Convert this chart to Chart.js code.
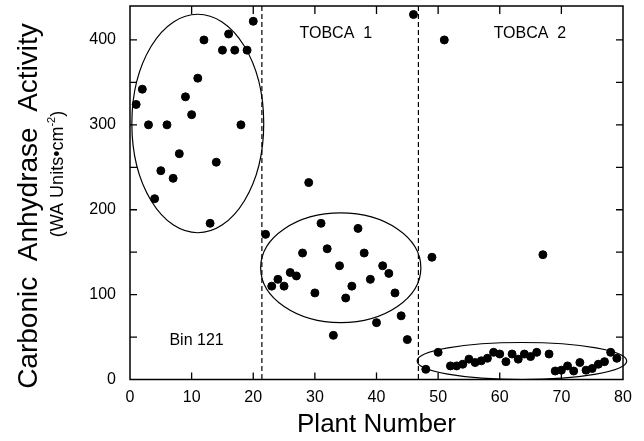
<!DOCTYPE html>
<html>
<head>
<meta charset="utf-8">
<script src="https://cdn.jsdelivr.net/npm/chart.js@4.4.0/dist/chart.umd.min.js"></script>
<style>
  html, body { margin: 0; padding: 0; background: #fff; }
  #wrap { width: 644px; height: 441px; position: relative; }
</style>
</head>
<body>
<div id="wrap"><canvas id="myChart"></canvas></div>
<script>
// plant number / carbonic anhydrase activity
const plantNumber = [1, 2, 3, 4, 5, 6, 7, 8, 9, 10, 11, 12, 13, 14, 15, 16, 17, 18, 19, 20,
  22, 23, 24, 25, 26, 27, 28, 29, 30, 31, 32, 33, 34, 35, 36, 37, 38, 39, 40, 41, 42, 43, 44, 45,
  46, 48, 49, 50, 51,
  52, 53, 54, 55, 56, 57, 58, 59, 60, 61, 62, 63, 64, 65, 66, 67, 68, 69, 70, 71, 72, 73, 74, 75, 76, 77, 78, 79];
const activity = [324, 342, 300, 213, 246, 300, 237, 266, 333, 312, 355, 400, 184, 256, 388, 407, 388, 300, 388, 422,
  171, 110, 118, 110, 126, 122, 149, 232, 102, 184, 154, 52, 134, 96, 110, 178, 149, 118, 67, 134, 125, 102, 75, 47,
  430, 12, 144, 32, 400,
  16, 16, 18, 24, 20, 22, 25, 32, 30, 21, 30, 24, 30, 27, 32, 147, 30, 10, 11, 16, 10, 20, 11, 13, 18, 21, 32, 25];

const xTicks = [0, 10, 20, 30, 40, 50, 60, 70, 80];
const yTicks = [0, 100, 200, 300, 400];

// group dividers and labels
const dividers = [21.4, 46.8];
const groupNames = ['Bin 121', 'TOBCA  1', 'TOBCA  2'];
const groupLabelX = [10.8, 33.4, 64.9];
const groupLabelY = [46, 407, 407];
// ellipses round each group: centre x, centre y, half width, half height
const ellCx = [11.0, 34.2, 63.6];
const ellCy = [301.6, 131.6, 21.8];
const ellRx = [10.7, 13.0, 17.0];
const ellRy = [128.7, 64.6, 21.8];

const FONT = "'Liberation Sans', Arial, Helvetica, sans-serif";

const decor = {
  id: 'decor',
  afterDatasetsDraw(chart) {
    const c = chart.ctx;
    const a = chart.chartArea;
    const sx = chart.scales.x, sy = chart.scales.y;
    c.save();
    c.strokeStyle = '#000';
    c.fillStyle = '#000';

    // frame
    c.lineWidth = 1.5;
    c.strokeRect(a.left, a.top, a.right - a.left, a.bottom - a.top);

    // inward tick marks
    c.lineWidth = 1.3;
    c.beginPath();
    for (let v = 10; v < 80; v += 10) {
      const px = sx.getPixelForValue(v);
      c.moveTo(px, a.bottom); c.lineTo(px, a.bottom - 7);
      c.moveTo(px, a.top); c.lineTo(px, a.top + 8);
    }
    for (let v = 50; v <= 400; v += 50) {
      const py = sy.getPixelForValue(v);
      c.moveTo(a.left, py); c.lineTo(a.left + 7, py);
      c.moveTo(a.right, py); c.lineTo(a.right - 7, py);
    }
    c.stroke();

    // dashed dividers
    c.lineWidth = 1.2;
    c.setLineDash([5, 3]);
    dividers.forEach(d => {
      const px = sx.getPixelForValue(d);
      c.beginPath();
      c.moveTo(px, a.top); c.lineTo(px, a.bottom);
      c.stroke();
    });
    c.setLineDash([]);

    // ellipses
    c.lineWidth = 1.2;
    for (let i = 0; i < ellCx.length; i++) {
      const px = sx.getPixelForValue(ellCx[i]);
      const py = sy.getPixelForValue(ellCy[i]);
      const rx = Math.abs(sx.getPixelForValue(ellCx[i] + ellRx[i]) - px);
      const ry = Math.abs(sy.getPixelForValue(ellCy[i] + ellRy[i]) - py);
      c.beginPath();
      c.ellipse(px, py, rx, ry, 0, 0, Math.PI * 2);
      c.stroke();
    }

    // group labels
    c.font = '16px ' + FONT;
    c.textAlign = 'center';
    c.textBaseline = 'middle';
    for (let i = 0; i < groupNames.length; i++) {
      c.fillText(groupNames[i], sx.getPixelForValue(groupLabelX[i]), sy.getPixelForValue(groupLabelY[i]));
    }

    // x title
    c.font = '26px ' + FONT;
    c.textBaseline = 'alphabetic';
    c.fillText('Plant Number', (a.left + a.right) / 2, 432);

    // y title, two lines
    c.save();
    c.translate(37, 206);
    c.rotate(-Math.PI / 2);
    c.font = '28px ' + FONT;
    c.fillText('Carbonic  Anhydrase  Activity', 0, 0);
    c.restore();

    c.save();
    c.translate(63, 174);
    c.rotate(-Math.PI / 2);
    c.textAlign = 'left';
    const p1 = '(WA Units\u2022cm', sup = '-2', p3 = ')';
    c.font = '18px ' + FONT;
    const w1 = c.measureText(p1).width, w3 = c.measureText(p3).width;
    c.font = '11px ' + FONT;
    const ws = c.measureText(sup).width;
    let x0 = -(w1 + ws + w3) / 2;
    c.font = '18px ' + FONT;
    c.fillText(p1, x0, 0);
    c.font = '11px ' + FONT;
    c.fillText(sup, x0 + w1, -8);
    c.font = '18px ' + FONT;
    c.fillText(p3, x0 + w1 + ws, 0);
    c.restore();

    c.restore();
  }
};

const ctx = document.getElementById('myChart');
const points = plantNumber.map((p, i) => ({ x: p, y: activity[i] }));

new Chart(ctx, {
  type: 'scatter',
  data: {
    datasets: [{
      data: points,
      backgroundColor: '#000',
      borderColor: '#000',
      pointRadius: 4,
      pointHoverRadius: 4
    }]
  },
  options: {
    responsive: true,
    maintainAspectRatio: false,
    animation: false,
    layout: { padding: { top: 6, right: 21, left: 0, bottom: 0 } },
    plugins: { legend: { display: false }, tooltip: { enabled: false } },
    scales: {
      x: {
        type: 'linear', min: 0, max: 80,
        afterBuildTicks: s => { s.ticks = xTicks.map(v => ({ value: v })); },
        afterFit: s => { s.height = 61.5; s.paddingLeft = 0; s.paddingRight = 0; },
        grid: { display: false, drawTicks: false },
        border: { display: false },
        ticks: { color: '#000', font: { family: FONT, size: 16 }, padding: 8, maxRotation: 0 }
      },
      y: {
        type: 'linear', min: 0, max: 440,
        afterBuildTicks: s => { s.ticks = yTicks.map(v => ({ value: v })); },
        afterFit: s => { s.width = 130; s.paddingTop = 0; s.paddingBottom = 0; },
        grid: { display: false, drawTicks: false },
        border: { display: false },
        ticks: { color: '#000', font: { family: FONT, size: 16 }, padding: 14 }
      }
    }
  },
  plugins: [decor]
});
</script>
</body>
</html>
